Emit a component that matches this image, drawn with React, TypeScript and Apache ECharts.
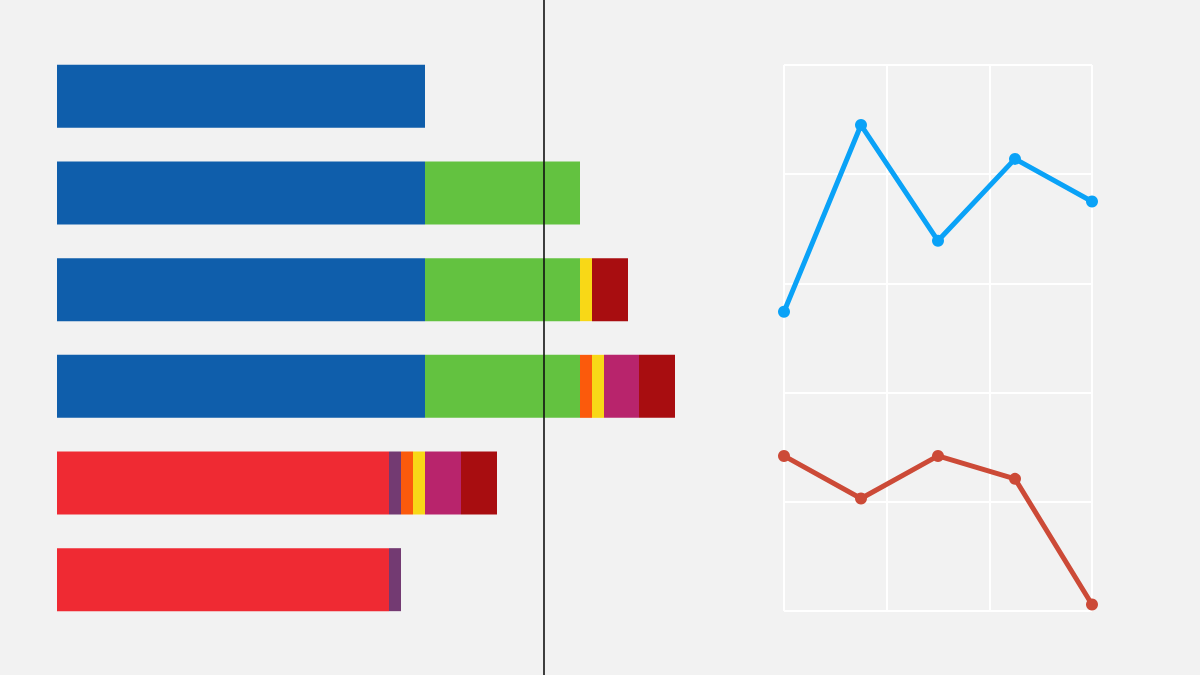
import React, { useEffect, useRef } from "react";
import * as echarts from "echarts";

const rows = ["r1", "r2", "r3", "r4", "r5", "r6"];
const blueBar = [368, 368, 368, 368, null, null];
const redBar = [null, null, null, null, 332, 332];
const greenBar = [null, 155, 155, 155, null, null];
const purpleBar = [null, null, null, null, 12, 12];
const orangeBar = [null, null, null, 12, 12, null];
const yellowBar = [null, null, 12, 12, 12, null];
const magentaBar = [null, null, null, 35, 36, null];
const darkRedBar = [null, null, 36, 36, 36, null];
const threshold = 487;
const barAxisMax = 1000;

const lineX = [0, 3, 6, 9, 12];
const blueLine = [27.4, 44.5, 33.9, 41.4, 37.5];
const redLine = [14.2, 10.3, 14.2, 12.1, 0.6];

export default function App() {
  const ref = useRef<HTMLDivElement>(null);
  useEffect(() => {
    document.body.style.margin = "0";
    const chart = echarts.init(ref.current!, undefined, { renderer: "svg" });
    const barSeries = (name: string, data: any[], color: string) => ({
      name,
      type: "bar",
      stack: "total",
      xAxisIndex: 0,
      yAxisIndex: 0,
      barWidth: 63,
      data,
      itemStyle: { color },
      silent: true,
    });
    chart.setOption({
      animation: false,
      backgroundColor: "#f2f2f2",
      grid: [
        { left: 57, width: 1000, top: 48, bottom: 47 },
        { left: 57, width: 1000, top: 0, bottom: 0 },
        { left: 784, width: 308, top: 65, height: 546 },
      ],
      xAxis: [
        { gridIndex: 0, type: "value", min: 0, max: barAxisMax, show: false },
        { gridIndex: 1, type: "value", min: 0, max: barAxisMax, show: false },
        {
          gridIndex: 2,
          type: "value",
          min: 0,
          max: 12,
          interval: 4,
          axisLine: { show: false },
          axisTick: { show: false },
          axisLabel: { show: false },
          splitLine: { show: true, lineStyle: { color: "#ffffff", width: 2 } },
        },
      ],
      yAxis: [
        { gridIndex: 0, type: "category", data: rows, inverse: true, show: false },
        { gridIndex: 1, type: "value", min: 0, max: 1, show: false },
        {
          gridIndex: 2,
          type: "value",
          min: 0,
          max: 50,
          interval: 10,
          axisLine: { show: false },
          axisTick: { show: false },
          axisLabel: { show: false },
          splitLine: { show: true, lineStyle: { color: "#ffffff", width: 2 } },
        },
      ],
      series: [
        barSeries("blue", blueBar, "#0f5eab"),
        barSeries("red", redBar, "#ef2a33"),
        barSeries("green", greenBar, "#63c240"),
        barSeries("purple", purpleBar, "#733a72"),
        barSeries("orange", orangeBar, "#fb5a0c"),
        barSeries("yellow", yellowBar, "#f8d817"),
        barSeries("magenta", magentaBar, "#b8246c"),
        barSeries("darkred", darkRedBar, "#a80d10"),
        {
          type: "scatter",
          xAxisIndex: 1,
          yAxisIndex: 1,
          data: [[threshold, 0.5]],
          symbolSize: 0,
          silent: true,
          markLine: {
            silent: true,
            symbol: "none",
            label: { show: false },
            lineStyle: { color: "#111111", width: 1.6, type: "solid" },
            data: [{ xAxis: threshold }],
          },
        },
        {
          type: "line",
          xAxisIndex: 2,
          yAxisIndex: 2,
          data: lineX.map((x, i) => [x, blueLine[i]]),
          symbol: "circle",
          symbolSize: 12,
          clip: false,
          lineStyle: { color: "#0aa2f7", width: 5 },
          itemStyle: { color: "#0aa2f7" },
          silent: true,
        },
        {
          type: "line",
          xAxisIndex: 2,
          yAxisIndex: 2,
          data: lineX.map((x, i) => [x, redLine[i]]),
          symbol: "circle",
          symbolSize: 12,
          clip: false,
          lineStyle: { color: "#cc4a37", width: 5 },
          itemStyle: { color: "#cc4a37" },
          silent: true,
        },
      ],
    });
    return () => chart.dispose();
  }, []);
  return <div ref={ref} style={{ width: 1200, height: 675 }} />;
}
